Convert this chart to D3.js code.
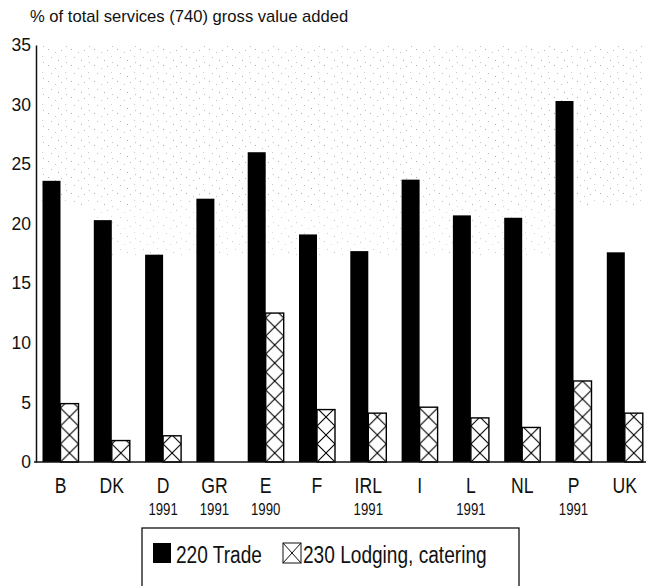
<!DOCTYPE html>
<html lang="en">
<head>
    <meta charset="UTF-8">
    <title>Services gross value added</title>
    <script src="https://cdn.jsdelivr.net/npm/d3@7"></script>
</head>
<style>
    body {
        margin: 0;
        background: #fff;
    }
    .title {
        font: 16.6px 'Liberation Sans', Arial, sans-serif;
        fill: #111;
    }
    .axticks text {
        font: 17.5px 'Liberation Sans', Arial, sans-serif;
        fill: #111;
    }
    .xlabel {
        font: 22px 'Liberation Sans', Arial, sans-serif;
        fill: #111;
    }
    .year {
        font: 16.5px 'Liberation Sans', Arial, sans-serif;
        fill: #111;
    }
    .legtext {
        font: 23px 'Liberation Sans', Arial, sans-serif;
        fill: #111;
    }
</style>
<body>
<div id="my_dataviz"></div>

<script>
    // data
    var countries = ["B", "DK", "D", "GR", "E", "F", "IRL", "I", "L", "NL", "P", "UK"];
    var years     = ["", "", "1991", "1991", "1990", "", "1991", "", "1991", "", "1991", ""];
    var trade     = [23.6, 20.3, 17.4, 22.1, 26.0, 19.1, 17.7, 23.7, 20.7, 20.5, 30.3, 17.6];
    var lodging   = [4.9, 1.8, 2.2, 0, 12.5, 4.4, 4.1, 4.6, 3.7, 2.9, 6.8, 4.1];
    var yTicks    = [0, 5, 10, 15, 20, 25, 30, 35];
    var seriesKeys   = ["trade", "lodging"];
    var seriesLabels = ["220 Trade", "230 Lodging, catering"];

    var W = 646, H = 586;

    var svg = d3.select("#my_dataviz")
        .append("svg")
        .attr("width", W)
        .attr("height", H);

    var defs = svg.append("defs");

    // squeeze a text horizontally (the original uses a narrow face)
    function narrow(sel, k) {
        sel.each(function() {
            var len = this.getComputedTextLength();
            if (len > 0) {
                d3.select(this)
                    .attr("textLength", len * k)
                    .attr("lengthAdjust", "spacingAndGlyphs");
            }
        });
    }

    // scales
    var x = d3.scaleBand()
        .domain(countries)
        .range([36, 36 + 12 * 51.3])
        .padding(0);

    var xSub = d3.scaleBand()
        .domain(seriesKeys)
        .range([6.5, 42.5]);

    var y = d3.scaleLinear()
        .domain([0, 35])
        .range([462, 45]);

    // faint scanner speckle in the upper plot area
    var speck = defs.append("pattern")
        .attr("id", "speck")
        .attr("patternUnits", "userSpaceOnUse")
        .attr("width", 23)
        .attr("height", 16);
    [[2, 1, "#aaa"], [9, 4, "#c8c8c8"], [15, 2, "#b4b4b4"], [5, 9, "#bdbdbd"],
     [12, 12, "#aaa"], [19, 8, "#cfcfcf"], [20, 14, "#bbb"]].forEach(function(p) {
        speck.append("rect")
            .attr("x", p[0]).attr("y", p[1])
            .attr("width", 1).attr("height", 1)
            .attr("fill", p[2]);
    });

    svg.append("rect")
        .attr("x", 40).attr("y", 46)
        .attr("width", 605).attr("height", 160)
        .attr("fill", "url(#speck)");
    svg.append("rect")
        .attr("x", 90).attr("y", 200)
        .attr("width", 470).attr("height", 55)
        .attr("fill", "url(#speck)")
        .attr("opacity", 0.7);

    // title
    svg.append("text")
        .attr("class", "title")
        .attr("x", 30)
        .attr("y", 22)
        .text("% of total services (740) gross value added");

    // y axis
    var yAxis = svg.append("g")
        .attr("class", "axticks")
        .attr("transform", "translate(36,0)")
        .call(d3.axisLeft(y).tickValues(yTicks).tickSize(0).tickPadding(5).tickFormat(d3.format("d")));
    yAxis.select(".domain").attr("stroke", "#111").attr("stroke-width", 1.5);

    // black bars
    svg.append("g")
        .selectAll("rect")
        .data(countries)
        .enter()
        .append("rect")
        .attr("x", function(d) { return x(d) + xSub("trade"); })
        .attr("y", function(d, i) { return y(trade[i]); })
        .attr("width", xSub.bandwidth())
        .attr("height", function(d, i) { return y(0) - y(trade[i]); })
        .attr("fill", "#000");

    // one hatch pattern per lodging bar, aligned to the bar
    var hatchH = 18;
    countries.forEach(function(c, i) {
        var bx = x(c) + xSub("lodging");
        var bw = xSub.bandwidth();
        var p = defs.append("pattern")
            .attr("id", "hatch" + i)
            .attr("patternUnits", "userSpaceOnUse")
            .attr("x", bx)
            .attr("y", y(0))
            .attr("width", bw)
            .attr("height", hatchH);
        p.append("rect").attr("width", bw).attr("height", hatchH).attr("fill", "#fff");
        p.append("path")
            .attr("d", "M0,0L" + bw + "," + hatchH + "M" + bw + ",0L0," + hatchH)
            .attr("stroke", "#000")
            .attr("stroke-width", 1.1)
            .attr("fill", "none");
    });

    svg.append("g")
        .selectAll("rect")
        .data(countries)
        .enter()
        .filter(function(d, i) { return lodging[i] > 0; })
        .append("rect")
        .attr("x", function(d) { return x(d) + xSub("lodging"); })
        .attr("y", function(d) { return y(lodging[countries.indexOf(d)]); })
        .attr("width", xSub.bandwidth())
        .attr("height", function(d) { return y(0) - y(lodging[countries.indexOf(d)]); })
        .attr("fill", function(d) { return "url(#hatch" + countries.indexOf(d) + ")"; })
        .attr("stroke", "#000")
        .attr("stroke-width", 1.4);

    // baseline
    svg.append("line")
        .attr("x1", 34).attr("x2", W)
        .attr("y1", y(0)).attr("y2", y(0))
        .attr("stroke", "#111")
        .attr("stroke-width", 1.5);

    // x labels
    var groupMid = function(d) { return x(d) + (xSub.range()[0] + xSub.range()[1]) / 2; };

    svg.append("g")
        .selectAll("text")
        .data(countries)
        .enter()
        .append("text")
        .attr("class", "xlabel")
        .attr("x", groupMid)
        .attr("y", 493)
        .attr("text-anchor", "middle")
        .text(function(d) { return d; })
        .call(narrow, 0.8);

    svg.append("g")
        .selectAll("text")
        .data(countries)
        .enter()
        .append("text")
        .attr("class", "year")
        .attr("x", groupMid)
        .attr("y", 515)
        .attr("text-anchor", "middle")
        .text(function(d, i) { return years[i]; })
        .call(narrow, 0.8);

    // legend
    var legend = svg.append("g").attr("class", "legend");
    legend.append("rect")
        .attr("x", 142).attr("y", 528)
        .attr("width", 377).attr("height", 80)
        .attr("fill", "#fff")
        .attr("stroke", "#111")
        .attr("stroke-width", 1.3);

    var legX = [153, 283];
    var legTextX = [176, 303];
    seriesKeys.forEach(function(k, i) {
        var sq = legend.append("rect")
            .attr("x", legX[i]).attr("y", 543)
            .attr("width", 18).attr("height", 20);
        if (k === "trade") {
            sq.attr("fill", "#000");
        } else {
            sq.attr("fill", "#fff").attr("stroke", "#111").attr("stroke-width", 1);
            legend.append("path")
                .attr("d", "M" + legX[i] + ",543L" + (legX[i] + 18) + ",563M" + (legX[i] + 18) + ",543L" + legX[i] + ",563")
                .attr("stroke", "#111")
                .attr("stroke-width", 1)
                .attr("fill", "none");
        }
        legend.append("text")
            .attr("class", "legtext")
            .attr("x", legTextX[i])
            .attr("y", 563)
            .text(seriesLabels[i])
            .call(narrow, 0.83);
    });
</script>
</body>
</html>
